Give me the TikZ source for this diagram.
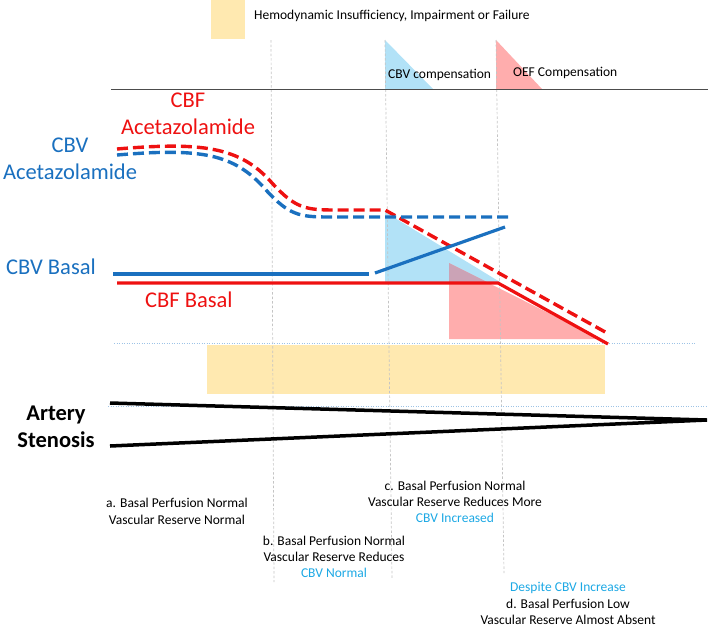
\documentclass[tikz,border=0pt]{standalone}
\usepackage{fontspec}
\setmainfont{Carlito}
\definecolor{cbvblue}{HTML}{1A70BF}
\definecolor{cbfred}{HTML}{EE1111}
\definecolor{lightcyan}{HTML}{B2E2F7}
\definecolor{pinkfill}{HTML}{FFADAD}
\definecolor{mauve}{HTML}{CBA3B6}
\definecolor{goldfill}{HTML}{FFE9B0}
\definecolor{infocyan}{HTML}{1CA8E4}
\definecolor{guidegray}{HTML}{C4C4C4}
\definecolor{dotblue}{HTML}{9DC3E6}
\begin{document}
\begin{tikzpicture}[x=1pt,y=-1pt,
  guide/.style={guidegray,line width=0.7pt,dash pattern=on 2.5pt off 2pt},
  dotline/.style={dotblue,line width=0.8pt,dash pattern=on 1pt off 1.5pt},
  dashcurve/.style={line width=3.4pt,dash pattern=on 11pt off 5pt},
  solidcurve/.style={line width=3.2pt},
  smalltxt/.style={inner sep=0pt,font=\fontsize{13.5}{16.3}\selectfont,align=center},
  bigtxt/.style={inner sep=0pt,font=\fontsize{22.5}{27}\selectfont,align=center},
  stenline/.style={black,line width=3.5pt}]
\useasboundingbox (0,0) rectangle (708,627);
% fills
\fill[goldfill] (211,0) rectangle (245,39);
\fill[lightcyan] (385,40) -- (385,89) -- (433,89) -- cycle;
\fill[pinkfill] (496,40) -- (496,89) -- (542,89) -- cycle;
\fill[lightcyan] (385,212) -- (385,282) -- (500,282) -- cycle;
\fill[pinkfill] (449,263) -- (449,339) -- (600,339) -- cycle;
\fill[mauve] (449,263) -- (449,282) -- (487,282) -- cycle;
\fill[goldfill] (207,345) rectangle (605,394);
% guides
\draw[guide] (271,40) -- (274,582);
\draw[guide] (385,40) -- (392,578);
\draw[guide] (496,40) -- (504,573);
\draw[dotline] (114,343) -- (695,343);
\draw[dotline] (108,406) -- (708,406);
\draw[gray!60!black,line width=0.9pt] (111,89) -- (708,89);
% curves
\draw[cbfred,dashcurve] (117,149) .. controls (200,142) and (240,146) .. (272,183)
   .. controls (295,208) and (305,210) .. (335,210) -- (385,210) -- (607,333);
\draw[cbvblue,dashcurve] (117,155) .. controls (200,148) and (234,153) .. (266,190)
   .. controls (289,215) and (299,217) .. (329,217) -- (510,217);
\draw[cbvblue,solidcurve] (113,274) -- (369,274);
\draw[cbvblue,solidcurve] (375,273) -- (505,227);
\draw[cbfred,solidcurve] (117,283) -- (498,283) -- (608,344);
% stenosis
\draw[stenline] (110,403) -- (707,420) -- (110,446);
% texts
\node[smalltxt,anchor=west] (legend) at (254,16) {Hemodynamic Insufficiency, Impairment or Failure};
\node[smalltxt,anchor=west] (cbvcomp) at (388,75) {CBV compensation};
\node[smalltxt,anchor=west] (oefcomp) at (513,73) {OEF Compensation};
\node[bigtxt,text=cbfred] (cbfacet) at (188,113.5) {CBF\\Acetazolamide};
\node[bigtxt,text=cbvblue] (cbvacet) at (70,158.5) {CBV\\Acetazolamide};
\node[bigtxt,text=cbvblue] (cbvbasal) at (51,267) {CBV Basal};
\node[bigtxt,text=cbfred,anchor=west] (cbfbasal) at (145,300) {CBF Basal};
\node[bigtxt,font=\fontsize{22.5}{27}\selectfont\bfseries] (artery) at (56,426.5) {Artery\\Stenosis};
\node[smalltxt] (la) at (177,511.5) {a. Basal Perfusion Normal\\Vascular Reserve Normal};
\node[smalltxt] (lb) at (334,557) {b. Basal Perfusion Normal\\Vascular Reserve Reduces\\\textcolor{infocyan}{CBV Normal}};
\node[smalltxt] (lc) at (455,502) {c. Basal Perfusion Normal\\Vascular Reserve Reduces More\\\textcolor{infocyan}{CBV Increased}};
\node[smalltxt] (ld) at (568,603.5) {\textcolor{infocyan}{Despite CBV Increase}\\d. Basal Perfusion Low\\Vascular Reserve Almost Absent};
\end{tikzpicture}
\end{document}
